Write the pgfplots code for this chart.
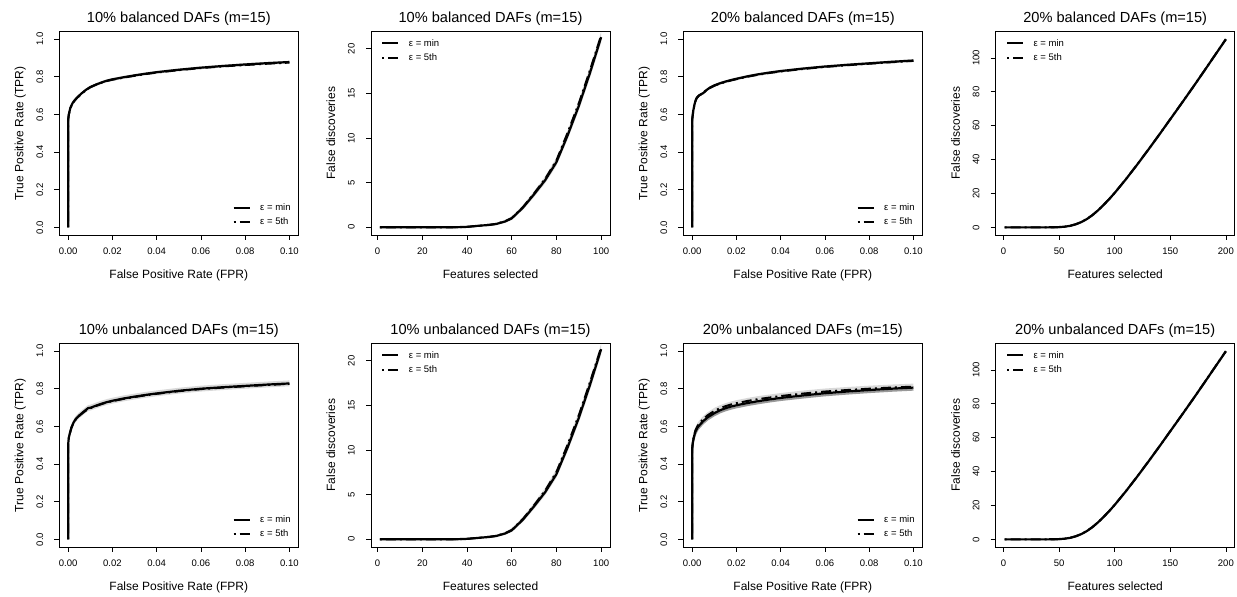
\documentclass[border=0pt]{standalone}
\usepackage{fontspec}
\setmainfont{Liberation Sans}
\usepackage{pgfplots}
\usepackage{pgfplotstable}
\pgfplotsset{compat=1.18}
\usepgfplotslibrary{fillbetween}

\pgfplotstableread{
x m f lo hi
0 0 0 0 0
0 0.570 0.570 0.565 0.575
0.0003 0.600 0.598 0.592 0.607
0.001 0.635 0.633 0.627 0.642
0.002 0.660 0.658 0.652 0.667
0.003 0.676 0.674 0.668 0.683
0.004 0.689 0.687 0.681 0.696
0.006 0.711 0.709 0.703 0.718
0.008 0.730 0.728 0.722 0.737
0.010 0.745 0.744 0.737 0.752
0.0125 0.758 0.757 0.750 0.765
0.015 0.769 0.768 0.761 0.776
0.0175 0.779 0.777 0.771 0.786
0.020 0.786 0.784 0.778 0.793
0.025 0.797 0.795 0.789 0.804
0.030 0.807 0.805 0.799 0.814
0.035 0.816 0.814 0.808 0.823
0.040 0.824 0.822 0.816 0.831
0.050 0.837 0.835 0.829 0.844
0.060 0.848 0.846 0.840 0.855
0.070 0.857 0.855 0.849 0.864
0.080 0.865 0.862 0.857 0.872
0.090 0.872 0.869 0.864 0.879
0.100 0.878 0.875 0.870 0.885
}\pone

\pgfplotstableread{
x m f lo hi
0 0 0 0 0
0 0.570 0.570 0.565 0.575
0.0005 0.620 0.618 0.612 0.627
0.001 0.650 0.648 0.642 0.657
0.0015 0.672 0.670 0.664 0.679
0.002 0.687 0.685 0.679 0.694
0.003 0.700 0.699 0.692 0.707
0.004 0.707 0.706 0.699 0.714
0.005 0.713 0.712 0.705 0.720
0.006 0.725 0.723 0.717 0.732
0.008 0.742 0.740 0.734 0.749
0.010 0.754 0.752 0.746 0.761
0.0125 0.765 0.763 0.757 0.772
0.015 0.774 0.772 0.766 0.781
0.0175 0.782 0.780 0.774 0.789
0.020 0.789 0.787 0.781 0.796
0.025 0.802 0.800 0.794 0.809
0.030 0.813 0.811 0.805 0.820
0.035 0.822 0.820 0.814 0.829
0.040 0.830 0.828 0.822 0.837
0.050 0.843 0.841 0.835 0.850
0.060 0.854 0.852 0.846 0.861
0.070 0.863 0.861 0.855 0.870
0.080 0.871 0.869 0.863 0.878
0.090 0.879 0.877 0.871 0.886
0.100 0.886 0.884 0.878 0.893
}\pthree

\pgfplotstableread{
x m f lo hi
0 0 0 0 0
0 0.505 0.505 0.495 0.515
0.0003 0.540 0.538 0.526 0.554
0.0008 0.565 0.563 0.550 0.580
0.0015 0.595 0.593 0.580 0.610
0.0025 0.622 0.620 0.607 0.638
0.0035 0.640 0.638 0.625 0.656
0.005 0.658 0.656 0.643 0.674
0.007 0.678 0.675 0.663 0.694
0.009 0.697 0.692 0.682 0.713
0.010 0.699 0.696 0.684 0.715
0.011 0.703 0.701 0.688 0.719
0.013 0.712 0.710 0.697 0.728
0.015 0.720 0.718 0.705 0.736
0.0175 0.729 0.727 0.714 0.745
0.020 0.736 0.734 0.721 0.752
0.025 0.748 0.746 0.733 0.764
0.030 0.758 0.756 0.743 0.774
0.035 0.767 0.765 0.752 0.783
0.040 0.775 0.773 0.760 0.791
0.050 0.789 0.787 0.774 0.805
0.060 0.800 0.798 0.785 0.816
0.070 0.808 0.806 0.793 0.824
0.080 0.815 0.813 0.800 0.831
0.090 0.822 0.820 0.807 0.838
0.100 0.828 0.826 0.813 0.844
}\pfive

\pgfplotstableread{
x m f lo hi g
0 0 0 0 0 0
0 0.480 0.480 0.470 0.495 0.470
0.0003 0.515 0.518 0.505 0.533 0.505
0.0008 0.545 0.550 0.536 0.566 0.535
0.0015 0.573 0.580 0.565 0.596 0.562
0.0025 0.595 0.604 0.589 0.620 0.584
0.0035 0.609 0.619 0.604 0.635 0.598
0.005 0.628 0.639 0.624 0.655 0.617
0.007 0.648 0.659 0.644 0.675 0.637
0.010 0.670 0.682 0.667 0.698 0.659
0.0125 0.685 0.696 0.681 0.712 0.674
0.015 0.696 0.707 0.692 0.723 0.685
0.0175 0.705 0.716 0.701 0.732 0.694
0.020 0.712 0.723 0.708 0.739 0.701
0.025 0.724 0.735 0.720 0.751 0.713
0.030 0.734 0.745 0.730 0.761 0.723
0.035 0.743 0.753 0.738 0.769 0.732
0.040 0.751 0.761 0.746 0.777 0.740
0.050 0.764 0.774 0.759 0.790 0.753
0.060 0.776 0.785 0.770 0.801 0.765
0.070 0.785 0.793 0.778 0.809 0.774
0.080 0.793 0.800 0.785 0.816 0.782
0.090 0.800 0.806 0.791 0.822 0.789
0.100 0.806 0.811 0.796 0.827 0.795
}\pseven

\pgfplotstableread{
x m f lo hi
1 0 0 0 0
10 0 0 0 0
20 0 0 0 0
30 0 0 0 0.02
35 0.01 0.01 0 0.04
40 0.05 0.05 0.02 0.10
45 0.17 0.17 0.10 0.25
50 0.27 0.28 0.18 0.38
53 0.37 0.39 0.26 0.50
57 0.65 0.68 0.50 0.82
60 1.00 1.04 0.82 1.22
65 2.20 2.26 1.95 2.48
70 3.70 3.80 3.40 4.05
75 5.30 5.45 4.95 5.72
80 7.30 7.50 6.90 7.80
85 10.3 10.6 9.85 10.85
90 13.6 13.9 13.1 14.2
95 17.3 17.6 16.75 17.95
100 21.3 21.5 20.7 21.9
}\ptwo

\pgfplotstableread{
x m f lo hi
1 0 0 0 0
10 0 0 0 0
20 0 0 0 0
30 0 0 0 0.02
35 0.01 0.01 0 0.04
40 0.05 0.05 0.02 0.10
45 0.16 0.17 0.10 0.25
50 0.27 0.28 0.18 0.38
53 0.37 0.39 0.26 0.50
57 0.65 0.68 0.50 0.82
60 1.00 1.05 0.82 1.24
65 2.20 2.28 1.95 2.50
70 3.70 3.82 3.40 4.08
75 5.30 5.48 4.95 5.76
80 7.30 7.55 6.90 7.85
85 10.3 10.6 9.85 10.9
90 13.6 13.9 13.1 14.25
95 17.3 17.6 16.75 18.0
100 21.3 21.5 20.7 21.9
}\psix

\pgfplotstableread{
x m f lo hi
1 0 0 0 0
20 0 0 0 0
40 0 0 0 0.02
45 0.05 0.05 0.02 0.1
50 0.15 0.16 0.08 0.25
55 0.40 0.42 0.28 0.55
60 0.9 0.93 0.72 1.1
65 1.8 1.85 1.55 2.1
70 3.1 3.15 2.8 3.45
75 4.9 4.95 4.5 5.3
80 7.2 7.25 6.75 7.65
85 10.0 10.05 9.5 10.5
90 13.2 13.25 12.7 13.7
95 16.6 16.65 16.1 17.1
100 20.3 20.35 19.8 20.8
110 28.3 28.35 27.8 28.8
120 36.8 36.85 36.3 37.3
130 45.6 45.65 45.1 46.1
140 54.6 54.65 54.1 55.1
150 63.8 63.85 63.3 64.3
160 73.0 73.05 72.5 73.5
170 82.3 82.35 81.8 82.8
180 91.8 91.85 91.3 92.3
190 101.4 101.45 100.9 101.9
200 111.0 111.05 110.5 111.5
}\pfour

\pgfplotstableread{
x m f lo hi
1 0 0 0 0
20 0 0 0 0
40 0 0 0 0.02
45 0.05 0.05 0.02 0.1
50 0.15 0.16 0.08 0.25
55 0.40 0.42 0.28 0.55
60 0.9 0.93 0.72 1.1
65 1.8 1.85 1.55 2.1
70 3.1 3.15 2.8 3.45
75 4.9 4.95 4.5 5.3
80 7.2 7.25 6.75 7.65
85 10.0 10.05 9.5 10.5
90 13.2 13.25 12.7 13.7
95 16.6 16.65 16.1 17.1
100 20.3 20.35 19.8 20.8
110 28.3 28.35 27.8 28.8
120 36.8 36.85 36.3 37.3
130 45.6 45.65 45.1 46.1
140 54.6 54.65 54.1 55.1
150 63.8 63.85 63.3 64.3
160 73.0 73.05 72.5 73.5
170 82.3 82.35 81.8 82.8
180 91.8 91.85 91.3 92.3
190 101.4 101.45 100.9 101.9
200 111.0 111.05 110.5 111.5
}\peight

\definecolor{bandgray}{gray}{0.85}
\definecolor{darkband}{gray}{0.6}

\pgfplotsset{
  rbase/.style={
    scale only axis, width=239pt, height=203.5pt,
    axis line style={line width=0.8pt},
    every tick/.style={black, line width=0.7pt},
    major tick length=5pt, tick align=outside,
    xtick pos=bottom, ytick pos=left,
    xticklabel style={font=\fontsize{9.5}{10}\selectfont, anchor=base, inner sep=0pt},
    yticklabel style={font=\fontsize{9.5}{10}\selectfont, rotate=90, anchor=south, inner sep=0pt},
    xticklabel shift=15pt, yticklabel shift=11pt,
    title style={at={(axis description cs:0.5,1)}, anchor=base, yshift=2.7pt, font=\fontsize{14.6}{16}\selectfont},
    xlabel style={at={(axis description cs:0.5,-0.2162)}, anchor=base, font=\fontsize{12}{14}\selectfont},
    ylabel style={at={(axis description cs:-0.150,0.5)}, anchor=base, font=\fontsize{12}{14}\selectfont},
    legend cell align=left,
    legend image code/.code={\draw[##1] (0pt,0pt) -- (16pt,0pt);},
    legend style={draw=none, fill=none, font=\fontsize{9.5}{11}\selectfont, row sep=3pt, inner sep=0pt,
      nodes={inner sep=1.5pt}, /tikz/every odd column/.append style={column sep=8pt}},
  },
  roc/.style={rbase,
    xmin=-0.004, xmax=0.104, ymin=-0.04, ymax=1.04,
    xtick={0,0.02,0.04,0.06,0.08,0.1}, xticklabels={0.00,0.02,0.04,0.06,0.08,0.10},
    ytick={0,0.2,0.4,0.6,0.8,1}, yticklabels={0.0,0.2,0.4,0.6,0.8,1.0},
    xlabel={False Positive Rate (FPR)}, ylabel={True Positive Rate (TPR)},
    legend style={at={(axis description cs:1,0)}, anchor=south east, xshift=-6pt, yshift=7pt}},
  fdA/.style={rbase,
    xmin=-2.96, xmax=103.96, ymin=-0.86, ymax=21.94,
    xtick={0,20,40,60,80,100}, xticklabels={0,20,40,60,80,100},
    ytick={0,5,10,15,20}, yticklabels={0,5,10,15,20},
    xlabel={Features selected}, ylabel={False discoveries},
    legend style={at={(axis description cs:0,1)}, anchor=north west, xshift=10pt, yshift=-6pt}},
  fdB/.style={rbase,
    xmin=-6.96, xmax=207.96, ymin=-4.5, ymax=115.6,
    xtick={0,50,100,150,200}, xticklabels={0,50,100,150,200},
    ytick={0,20,40,60,80,100}, yticklabels={0,20,40,60,80,100},
    xlabel={Features selected}, ylabel={False discoveries},
    legend style={at={(axis description cs:0,1)}, anchor=north west, xshift=10pt, yshift=-6pt}},
}

\newcommand{\band}[2]{%
  \addplot[draw=none, name path=bhi, forget plot] table[x=x,y=hi]{#1};
  \addplot[draw=none, name path=blo, forget plot] table[x=x,y=lo]{#1};
  \addplot[fill=#2, draw=none, forget plot] fill between[of=bhi and blo];
}
\newcommand{\curves}[1]{%
  \addplot[black, line width=2.2pt, line join=round] table[x=x,y=m]{#1};
  \addlegendentry{ε = min}
  \addplot[black, line width=2pt, dash pattern=on 2pt off 4pt on 10pt off 4pt] table[x=x,y=f]{#1};
  \addlegendentry{ε = 5th}
}

\begin{document}
\begin{tikzpicture}
\path (0,0) rectangle (1237pt,595pt);

% Row 1
\begin{axis}[roc, at={(59.3pt,360pt)}, anchor=south west, title={10\% balanced DAFs (m=15)}]
\band{\pone}{bandgray}
\curves{\pone}
\end{axis}

\begin{axis}[fdA, at={(371pt,360pt)}, anchor=south west, title={10\% balanced DAFs (m=15)}]
\band{\ptwo}{bandgray}
\curves{\ptwo}
\end{axis}

\begin{axis}[roc, at={(683.3pt,360pt)}, anchor=south west, title={20\% balanced DAFs (m=15)}]
\band{\pthree}{bandgray}
\curves{\pthree}
\end{axis}

\begin{axis}[fdB, at={(995.7pt,360pt)}, anchor=south west, title={20\% balanced DAFs (m=15)}]
\band{\pfour}{bandgray}
\curves{\pfour}
\end{axis}

% Row 2
\begin{axis}[roc, at={(59.3pt,48pt)}, anchor=south west, title={10\% unbalanced DAFs (m=15)}]
\band{\pfive}{bandgray}
\curves{\pfive}
\end{axis}

\begin{axis}[fdA, at={(371pt,48pt)}, anchor=south west, title={10\% unbalanced DAFs (m=15)}]
\band{\psix}{bandgray}
\curves{\psix}
\end{axis}

\begin{axis}[roc, at={(683.3pt,48pt)}, anchor=south west, title={20\% unbalanced DAFs (m=15)}]
\band{\pseven}{bandgray}
\addplot[darkband, line width=2pt, forget plot] table[x=x,y=g]{\pseven};
\curves{\pseven}
\end{axis}

\begin{axis}[fdB, at={(995.7pt,48pt)}, anchor=south west, title={20\% unbalanced DAFs (m=15)}]
\band{\peight}{bandgray}
\curves{\peight}
\end{axis}
\end{tikzpicture}
\end{document}
